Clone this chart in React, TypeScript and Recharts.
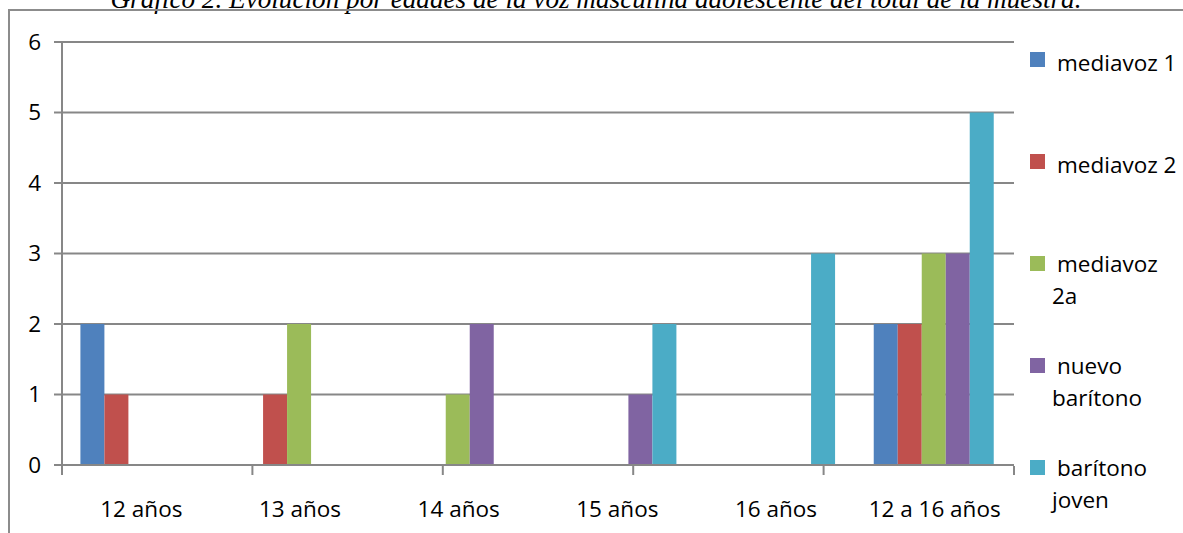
import { Bar, BarChart, CartesianGrid, XAxis, YAxis } from "recharts"

const edades = ["12 años", "13 años", "14 años", "15 años", "16 años", "12 a 16 años"]

const mediavoz1 = [2, 0, 0, 0, 0, 2]
const mediavoz2 = [1, 1, 0, 0, 0, 2]
const mediavoz2a = [0, 2, 1, 0, 0, 3]
const nuevoBaritono = [0, 0, 2, 1, 0, 3]
const baritonoJoven = [0, 0, 0, 2, 3, 5]

const yTicks = [0, 1, 2, 3, 4, 5, 6]
const edgeTicks = [0, 1, 2, 3, 4, 5, 6]

const titulo = "Gráfico 2. Evolución por edades de la voz masculina adolescente del total de la muestra."

const series = [
    { key: "m1", name: "mediavoz 1", color: "#4F81BD", values: mediavoz1 },
    { key: "m2", name: "mediavoz 2", color: "#C0504D", values: mediavoz2 },
    { key: "m2a", name: "mediavoz 2a", color: "#9BBB59", values: mediavoz2a },
    { key: "nb", name: "nuevo barítono", color: "#8064A2", values: nuevoBaritono },
    { key: "bj", name: "barítono joven", color: "#4BACC6", values: baritonoJoven },
]

const data = edades.map((edad, i) => {
    const row: Record<string, string | number> = { edad }
    series.forEach((s) => {
        row[s.key] = s.values[i]
    })
    return row
})

const GRID = "#878787"
const FONT = "'Open Sans', sans-serif"

// legend labels wrap onto two lines like the original Excel legend
function splitName(name: string) {
    if (name.length <= 10) return [name]
    const cut = name.lastIndexOf(" ")
    return [name.slice(0, cut), name.slice(cut + 1)]
}

function LeyendaVertical() {
    return (
        <svg width={163} height={490} style={{ position: "absolute", left: 1020, top: 40 }}>
            {series.map((s, i) => {
                const top = 12 + i * 102
                const lines = splitName(s.name)
                const first = lines.length > 1 ? top + 16 : top + 19
                return (
                    <g key={s.key}>
                        <rect x={10} y={top} width={15} height={15} fill={s.color} />
                        {lines.map((line, j) => (
                            <text
                                key={j}
                                x={j === 0 ? 37 : 32}
                                y={first + j * 32}
                                fontFamily={FONT}
                                fontSize={22.5}
                                fill="#000"
                            >
                                {line}
                            </text>
                        ))}
                    </g>
                )
            })}
        </svg>
    )
}

// empty tick: only the tick line of the category-boundary axis is drawn
const NoLabel = () => <g />

export default function App() {
    return (
        <div style={{ position: "absolute", left: 0, top: 0, width: 1183, height: 533, overflow: "hidden", background: "#fff" }}>
            <svg width={1183} height={20} style={{ position: "absolute", left: 0, top: 0 }}>
                <text x={596} y={8} textAnchor="middle" fontFamily="'Liberation Serif', serif" fontStyle="italic" fontSize={27.2} fill="#000">
                    {titulo}
                </text>
            </svg>
            <div style={{ position: "absolute", left: 8, top: 9, width: 1200, height: 540, border: "2px solid #8c8c8c" }} />
            <div style={{ position: "absolute", left: 0, top: 0 }}>
                <BarChart
                    width={1183}
                    height={533}
                    data={data}
                    margin={{ top: 42, right: 169, bottom: 28, left: 8 }}
                    barCategoryGap="11.6%"
                    barGap={0}
                >
                    <CartesianGrid vertical={false} stroke={GRID} strokeWidth={2} />
                    <XAxis
                        dataKey="edad"
                        height={1}
                        axisLine={{ stroke: GRID, strokeWidth: 2 }}
                        tickLine={false}
                        tickSize={0}
                        tickMargin={36}
                        tick={{ fontFamily: FONT, fontSize: 22.5, fill: "#000" }}
                        interval={0}
                    />
                    <XAxis
                        xAxisId="bordes"
                        type="number"
                        domain={[0, 6]}
                        ticks={edgeTicks}
                        height={39}
                        axisLine={false}
                        tick={NoLabel}
                        tickSize={9}
                        tickLine={{ stroke: GRID, strokeWidth: 2 }}
                    />
                    <YAxis
                        domain={[0, 6]}
                        ticks={yTicks}
                        width={54}
                        axisLine={{ stroke: GRID, strokeWidth: 2 }}
                        tickLine={{ stroke: GRID, strokeWidth: 2 }}
                        tickSize={8}
                        tickMargin={13}
                        tick={{ fontFamily: FONT, fontSize: 22.5, fill: "#000" }}
                    />
                    {series.map((s) => (
                        <Bar key={s.key} dataKey={s.key} name={s.name} fill={s.color} isAnimationActive={false} />
                    ))}
                </BarChart>
            </div>
            <LeyendaVertical />
        </div>
    )
}
